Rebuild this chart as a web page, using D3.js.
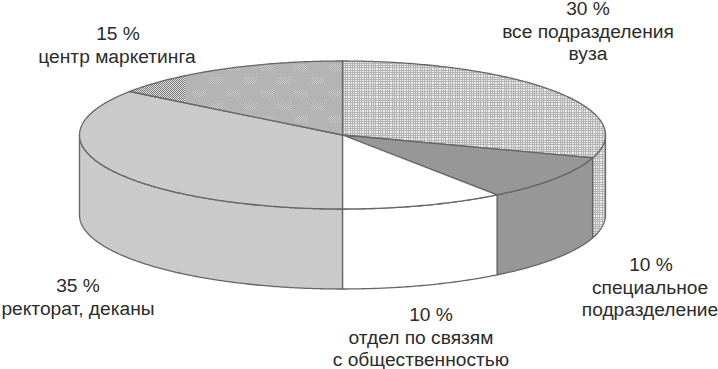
<!DOCTYPE html>
<html>
<head>
<meta charset="utf-8">
<script src="https://cdn.jsdelivr.net/npm/d3@7"></script>
<style>
  html, body { margin: 0; padding: 0; background: #fff; overflow: hidden; }
  text { font-family: "Liberation Sans", Arial, sans-serif; font-size: 19.2px; fill: #2b2b2b; text-anchor: middle; }
</style>
</head>
<body>
<svg id="chart" width="718" height="369"></svg>
<script>
// slices go clockwise from 12 o'clock
var values = [30, 10, 10, 35, 15];
var percentLabels = ["30 %", "10 %", "10 %", "35 %", "15 %"];
var categories = [
  ["все подразделения", "вуза"],
  ["специальное", "подразделение"],
  ["отдел по связям", "с общественностью"],
  ["ректорат, деканы"],
  ["центр маркетинга"]
];
var fills = ["url(#grid)", "#979797", "#ffffff", "#cacaca", "url(#patchy)"];
var percentX = [588, 651, 431, 78, 118];
var labelX = [588, 650, 421, 78, 117];
var labelY = [15, 271, 321, 292, 40];

var svg = d3.select("#chart");
var cx = 342.5, cy = 135, rx = 263, ry = 74, depth = 80;
var stroke = "#666";

var defs = svg.append("defs");

function pattern(id, w, h, bg) {
  var p = defs.append("pattern").attr("id", id)
    .attr("patternUnits", "userSpaceOnUse").attr("width", w).attr("height", h);
  p.append("rect").attr("width", w).attr("height", h).attr("fill", bg);
  return p;
}

// fine grid, every 7px one line is dropped like in the scan
var grid = pattern("grid", 7, 7, "#efefef");
[0, 2, 4].forEach(function(k) {
  grid.append("rect").attr("x", k).attr("width", 1).attr("height", 7).attr("fill", "#b4b4b4");
  grid.append("rect").attr("y", k).attr("width", 7).attr("height", 1).attr("fill", "#b4b4b4");
});

var dots = pattern("dots", 2, 2, "#cfcfcf");
dots.append("rect").attr("width", 1).attr("height", 1).attr("fill", "#a4a4a4");
dots.append("rect").attr("x", 1).attr("y", 1).attr("width", 1).attr("height", 1).attr("fill", "#a4a4a4");

var dense = pattern("dense", 2, 2, "#e2e2e2");
dense.append("rect").attr("width", 1).attr("height", 1).attr("fill", "#777");
dense.append("rect").attr("x", 1).attr("y", 1).attr("width", 1).attr("height", 1).attr("fill", "#777");

// big tile over the whole 15% slice: dense at the left tip, patches on the rest
var patchy = pattern("patchy", 230, 80, "#b4b4b4").attr("x", 130).attr("y", 60);
patchy.append("rect").attr("width", 55).attr("height", 80).attr("fill", "url(#dense)");
d3.range(5).forEach(function(row) {
  d3.range(6).forEach(function(col) {
    patchy.append("rect")
      .attr("x", 62 + col * 34 + (row % 2) * 17)
      .attr("y", 4 + row * 13)
      .attr("width", 14).attr("height", 7)
      .attr("fill", "url(#dots)");
  });
});

var pie = d3.pie().value(d => d).sort(null);
var slices = pie(values);

// screen position of an angle on the flattened rim
var rimX = a => cx + rx * Math.sin(a);
var rimY = a => cy - ry * Math.cos(a);
var angles = (a0, a1) => d3.range(a0, a1, 0.01).concat([a1]);

// side walls, only the front half of the rim shows
var front = [Math.PI / 2, 3 * Math.PI / 2];
var wall = d3.area().x(a => rimX(a)).y0(a => rimY(a)).y1(a => rimY(a) + depth);

slices.forEach(function(s, i) {
  var a0 = Math.max(s.startAngle, front[0]), a1 = Math.min(s.endAngle, front[1]);
  if (a1 <= a0) return;
  svg.append("path")
    .attr("d", wall(angles(a0, a1)))
    .attr("fill", fills[i])
    .attr("stroke", stroke)
    .attr("stroke-width", 1.3);
});

// top face
var line = d3.line().x(p => p[0]).y(p => p[1]);
svg.append("g").selectAll("path")
  .data(slices)
  .enter().append("path")
    .attr("d", d => line([[cx, cy]].concat(angles(d.startAngle, d.endAngle).map(a => [rimX(a), rimY(a)]))) + "Z")
    .attr("fill", (d, i) => fills[i])
    .attr("stroke", stroke)
    .attr("stroke-width", 1.3);

// labels
values.forEach(function(v, i) {
  var t = svg.append("text").attr("x", percentX[i]).attr("y", labelY[i]);
  t.append("tspan").attr("x", percentX[i]).text(percentLabels[i]);
  categories[i].forEach(function(txt) {
    t.append("tspan").attr("x", labelX[i]).attr("dy", 22.5).text(txt);
  });
});
</script>
</body>
</html>
